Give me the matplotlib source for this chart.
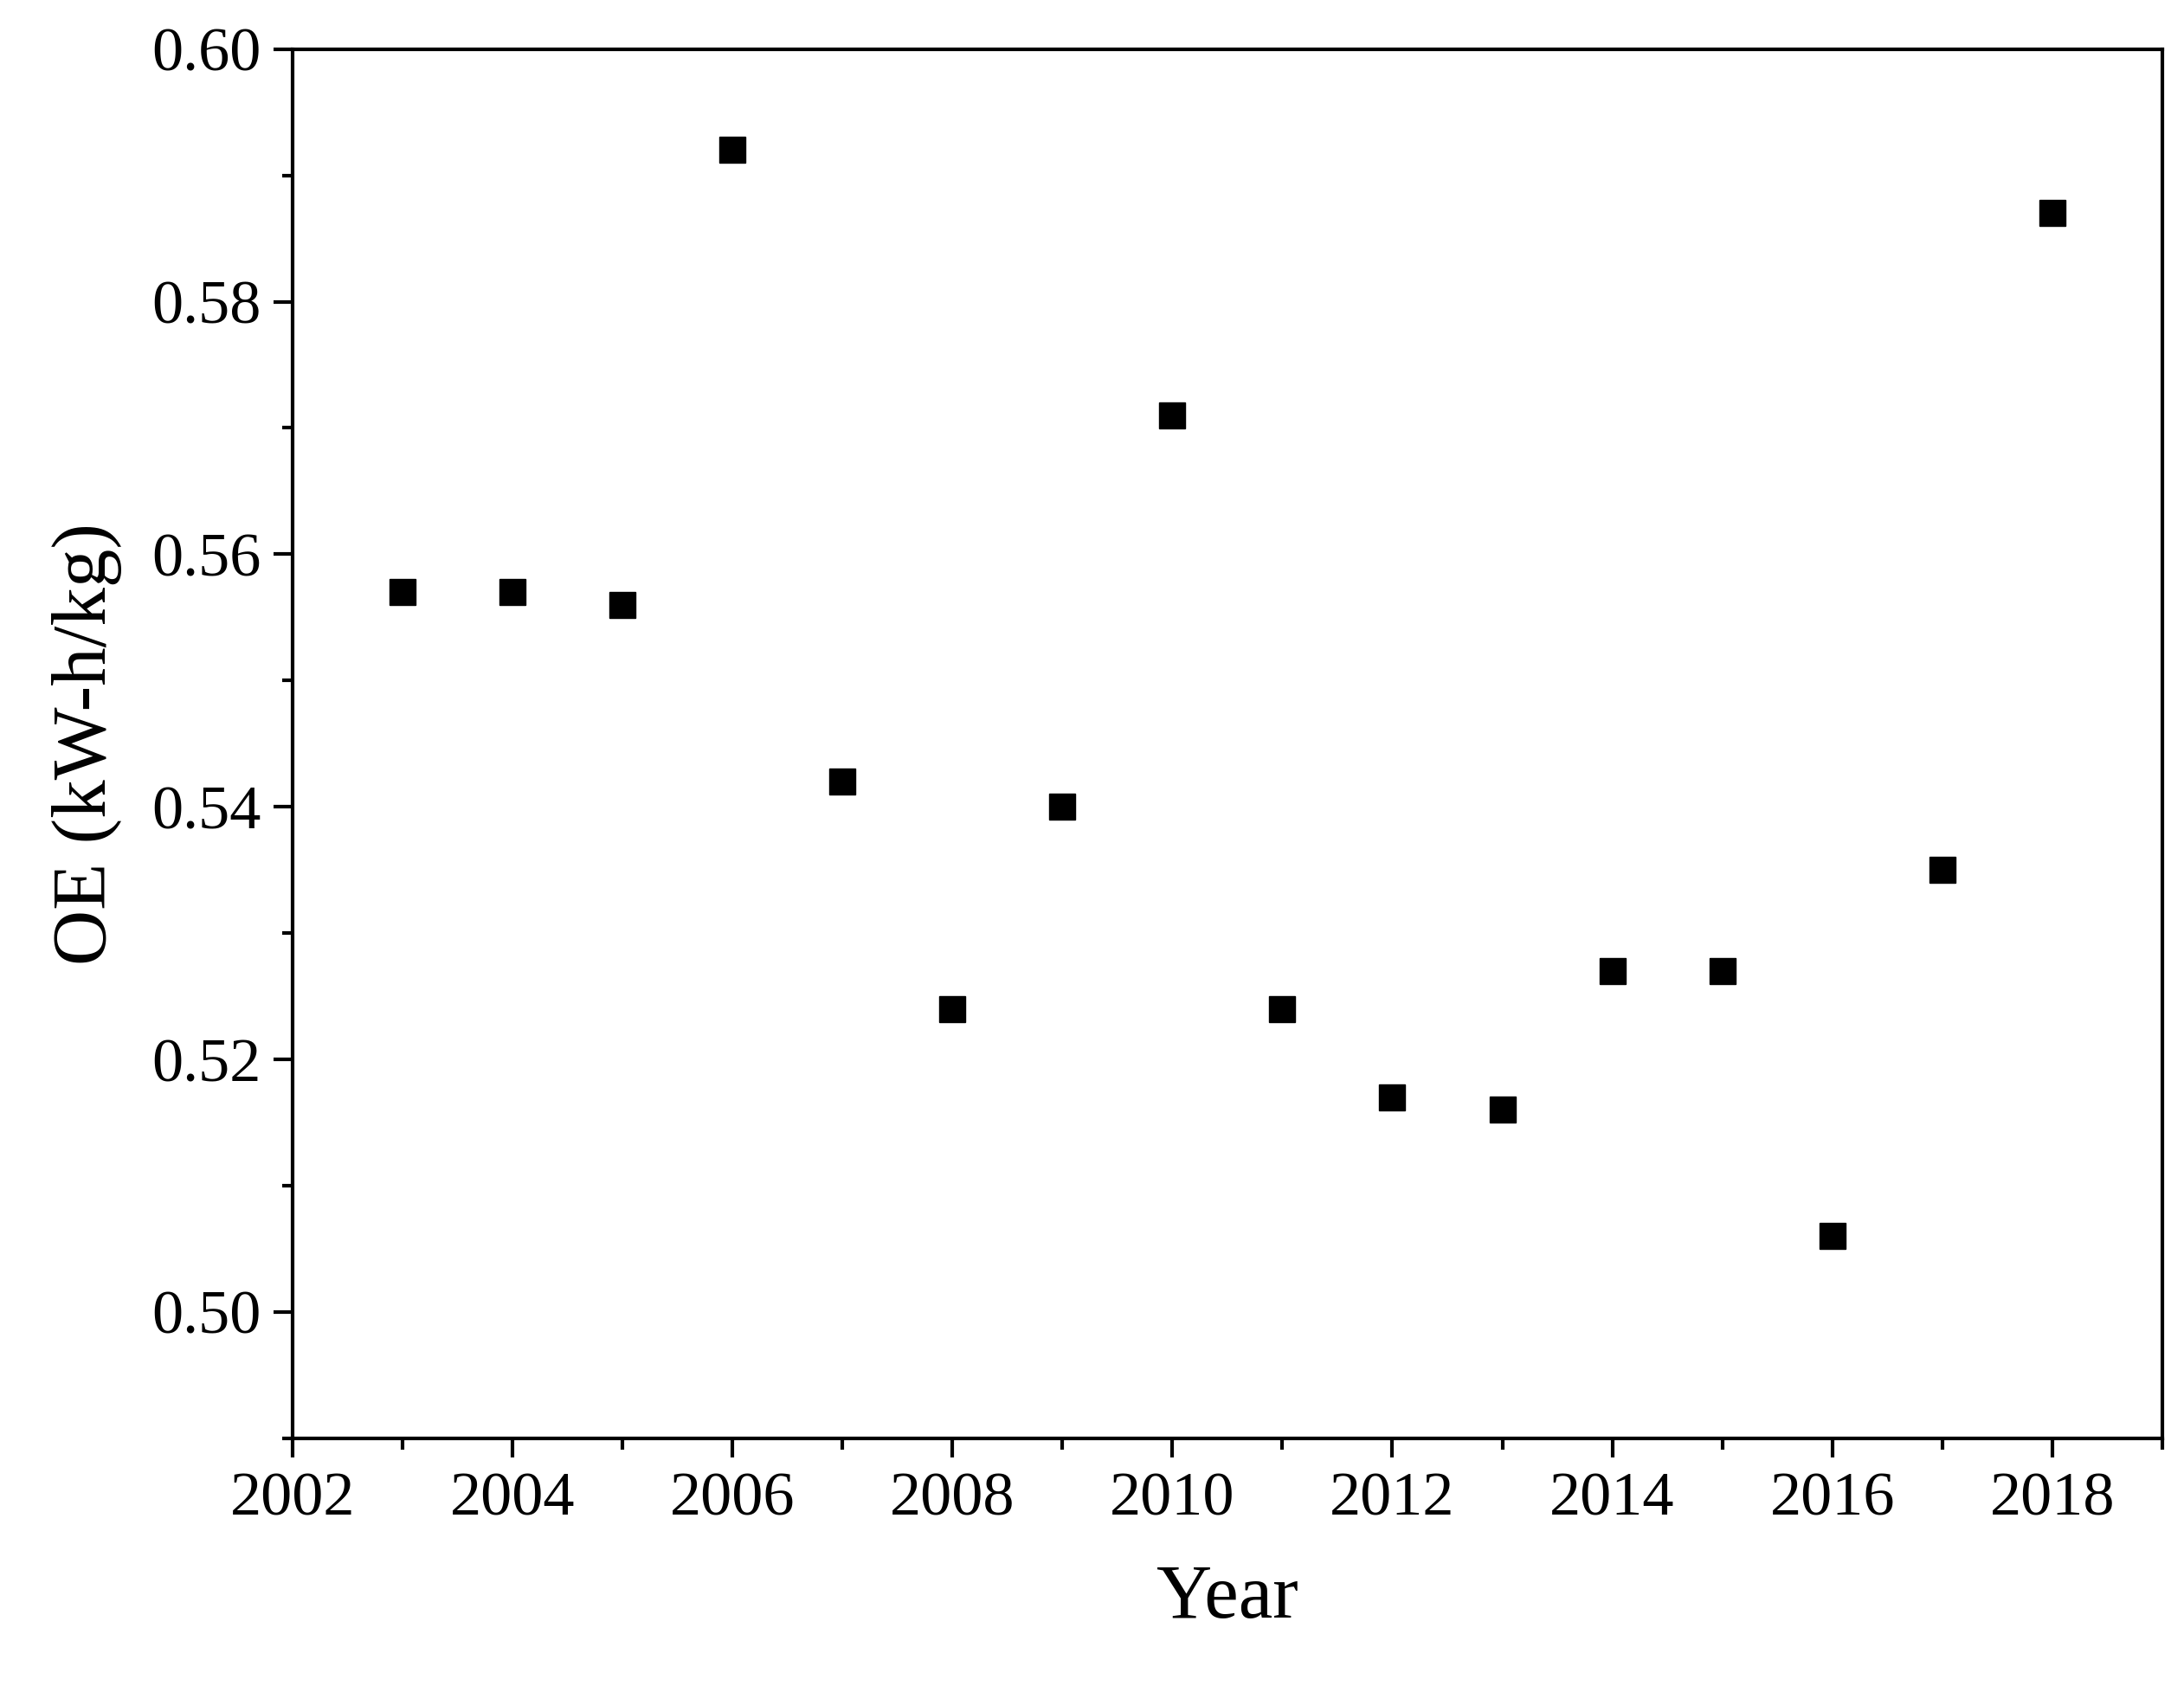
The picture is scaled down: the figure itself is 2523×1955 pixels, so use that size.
import matplotlib

matplotlib.use("Agg")
import matplotlib.pyplot as plt
from matplotlib.ticker import MultipleLocator

YEARS = [2003, 2004, 2005, 2006, 2007, 2008, 2009, 2010, 2011, 2012, 2013, 2014, 2015, 2016, 2017, 2018]
OE = [0.557, 0.557, 0.556, 0.592, 0.542, 0.524, 0.540, 0.571, 0.524, 0.517, 0.516, 0.527, 0.527, 0.506, 0.535, 0.587]

plt.rcParams["font.family"] = ["Liberation Serif", "DejaVu Serif"]

fig = plt.figure(figsize=(25.23, 19.55), dpi=100)
ax = fig.add_axes([0.134, 0.150, 0.856, 0.821])
ax.plot(YEARS, OE, "s", color="black", markersize=21, linestyle="none")

ax.set_xlim(2002, 2019)
ax.set_ylim(0.49, 0.60)
ax.xaxis.set_major_locator(MultipleLocator(2))
ax.xaxis.set_minor_locator(MultipleLocator(1))
ax.yaxis.set_major_locator(MultipleLocator(0.02))
ax.yaxis.set_minor_locator(MultipleLocator(0.01))
ax.set_yticks([0.50, 0.52, 0.54, 0.56, 0.58, 0.60])
ax.set_yticklabels(["0.50", "0.52", "0.54", "0.56", "0.58", "0.60"])
ax.tick_params(which="both", direction="out", width=3, labelsize=52)
ax.tick_params(which="major", length=16)
ax.tick_params(which="minor", length=9)
ax.tick_params(axis="x", pad=12)
ax.tick_params(axis="y", pad=10)
for s in ax.spines.values():
    s.set_linewidth(3)

ax.set_xlabel("Year", fontsize=64, labelpad=30)
ax.set_ylabel("OE (kW-h/kg)", fontsize=64, labelpad=25)

fig.savefig("out.png", facecolor="white")
